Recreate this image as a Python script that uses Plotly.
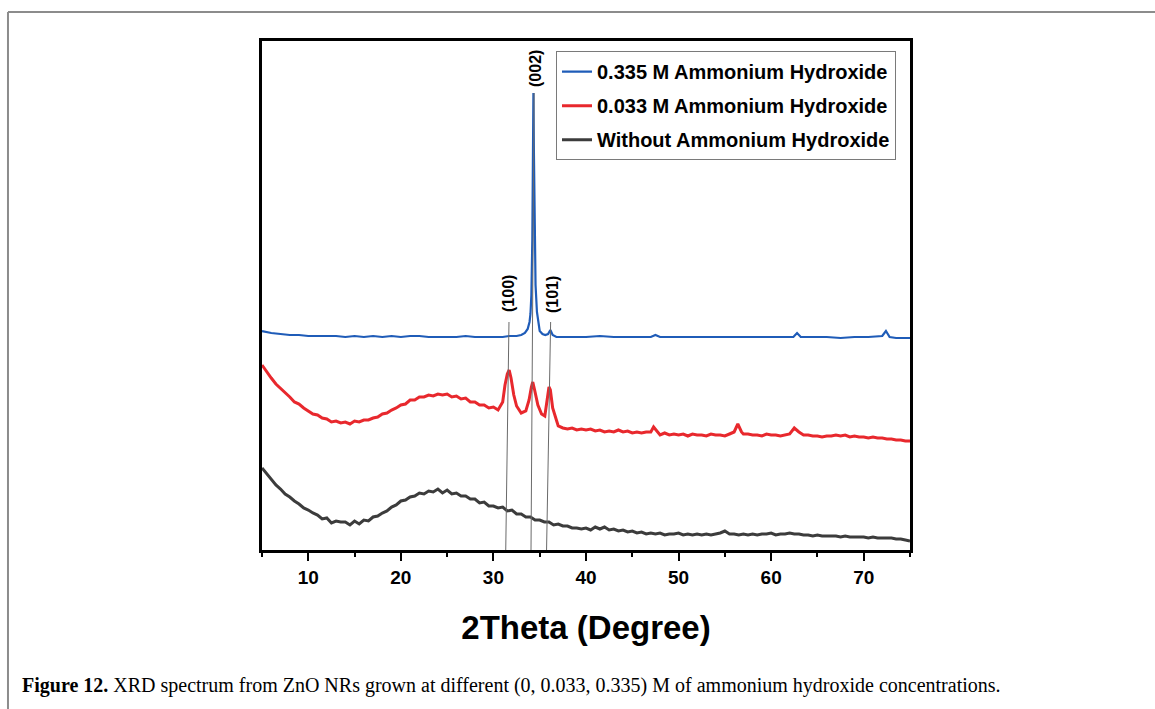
import plotly.graph_objects as go

# ---------------- data (intensity in arbitrary units) -------------
black_x = [5.0 + 0.5 * i for i in range(141)]
black_y = [82, 76, 71, 65, 61, 56, 53, 49, 46, 42, 40, 37, 35, 31, 32, 27, 29, 28, 28, 25,
           29, 26, 30, 29, 33, 34, 37, 39, 43, 45, 49, 50, 53, 54, 57, 56, 59, 58, 61, 57,
           60, 56, 57, 54, 54, 51, 51, 47, 48, 44, 44, 42, 43, 39, 40, 36, 36, 33, 33, 30,
           30, 28, 28, 25, 26, 24, 24, 22, 22, 21, 22, 20, 23, 21, 23, 20, 21, 19, 20, 18,
           19, 17, 18, 16, 17, 16, 17, 15, 16, 16, 17, 15, 16, 15, 16, 15, 16, 15, 16, 17,
           19, 16, 16, 15, 16, 15, 16, 15, 16, 16, 17, 15, 16, 16, 17, 16, 16, 15, 15, 14,
           15, 14, 14, 14, 14, 13, 14, 13, 13, 13, 13, 12, 13, 12, 12, 12, 12, 11, 11, 10, 9]

red_x = [5.0, 5.5, 6.0, 6.5, 7.0, 7.5, 8.0, 8.5, 9.0, 9.5, 10.0, 10.5, 11.0, 11.5, 12.0,
         12.5, 13.0, 13.5, 14.0, 14.5, 15.0, 15.5, 16.0, 16.5, 17.0, 17.5, 18.0, 18.5, 19.0,
         19.5, 20.0, 20.5, 21.0, 21.5, 22.0, 22.5, 23.0, 23.5, 24.0, 24.5, 25.0, 25.5, 26.0,
         26.5, 27.0, 27.5, 28.0, 28.5, 29.0, 29.5, 30.0, 30.5, 31.0, 31.25, 31.5, 31.7, 31.9,
         32.2, 32.5, 33.0, 33.5, 33.85, 34.1, 34.25, 34.45, 34.8, 35.2, 35.55, 35.8, 36.0,
         36.15, 36.4, 36.8, 37.0, 37.5, 38.0, 38.5, 39.0, 39.5, 40.0, 40.5, 41.0, 41.5, 42.0,
         42.5, 43.0, 43.5, 44.0, 44.5, 45.0, 45.5, 46.0, 46.5, 47.0, 47.3, 47.7, 48.0, 48.5,
         49.0, 49.5, 50.0, 50.5, 51.0, 51.5, 52.0, 52.5, 53.0, 53.5, 54.0, 54.5, 55.0, 55.5,
         56.0, 56.4, 56.8, 57.0, 57.5, 58.0, 58.5, 59.0, 59.5, 60.0, 60.5, 61.0, 61.5, 62.0,
         62.5, 63.0, 63.5, 64.0, 64.5, 65.0, 65.5, 66.0, 66.5, 67.0, 67.5, 68.0, 68.5, 69.0,
         69.5, 70.0, 70.5, 71.0, 71.5, 72.0, 72.5, 73.0, 73.5, 74.0, 74.5, 75.0]
red_y = [185, 178, 172, 166, 162, 157, 153, 148, 146, 142, 139, 136, 135, 132, 131,
         128, 129, 127, 128, 126, 129, 128, 130, 130, 132, 133, 136, 137, 140,
         142, 145, 146, 150, 150, 153, 153, 155, 154, 156, 155, 156, 153, 154,
         151, 152, 148, 148, 145, 145, 142, 143, 140, 148, 165, 176, 180, 172,
         155, 144, 137, 139, 150, 163, 168, 160, 145, 136, 134, 150, 163,
         160, 142, 130, 124, 122, 121, 122, 120, 121, 120, 121, 119, 120, 118,
         119, 118, 120, 118, 119, 117, 118, 117, 118, 118, 123, 118, 115, 117,
         115, 116, 115, 116, 114, 116, 115, 115, 114, 116, 115, 115, 114, 116,
         118, 126, 118, 116, 116, 115, 115, 114, 116, 115, 115, 114, 115, 116,
         122, 118, 115, 115, 114, 114, 113, 114, 114, 115, 114, 115, 113, 114,
         113, 113, 112, 113, 112, 112, 111, 111, 110, 110, 109, 109]

blue_x = [5.0, 5.5, 6.0, 7.0, 8.0, 9.0, 10.0, 11.0, 12.0, 13.0, 14.0, 15.0, 16.0, 17.0,
          18.0, 19.0, 20.0, 21.0, 22.0, 23.0, 24.0, 25.0, 26.0, 27.0, 28.0, 29.0, 30.0,
          31.0, 31.7, 32.5, 33.0, 33.4, 33.7, 33.9, 34.0, 34.1, 34.2, 34.27, 34.32, 34.37,
          34.45, 34.55, 34.7, 34.85, 35.0, 35.3, 35.6, 35.9, 36.15, 36.4, 36.8, 37.5, 38.5,
          40.0, 41.5, 43.0, 44.5, 46.0, 47.0, 47.5, 48.0, 49.5, 51.0, 52.5, 54.0, 55.5, 57.0,
          58.5, 60.0, 61.5, 62.4, 62.8, 63.2, 64.5, 66.0, 67.5, 69.0, 70.5, 72.0, 72.4, 72.8,
          73.5, 74.2, 75.0]
blue_y = [219, 218, 217, 216, 215, 215, 214, 214, 214, 214, 213, 214, 213, 214,
          213, 214, 213, 214, 214, 213, 213, 213, 213, 214, 213, 213, 213,
          213, 214, 214, 215, 217, 221, 228, 236, 255, 310, 400, 457, 400,
          320, 265, 238, 225, 219, 216, 215, 216, 220, 215, 213, 213, 213,
          213, 214, 213, 213, 213, 213, 215, 213, 213, 213, 213, 213, 213, 213,
          213, 213, 213, 213, 217, 213, 213, 213, 212, 213, 213, 214, 219, 213,
          212, 212, 212]

series_names = ["0.335 M Ammonium Hydroxide", "0.033 M Ammonium Hydroxide",
                "Without Ammonium Hydroxide"]
series_colors = ["#1f5cb8", "#e8282d", "#3c3c3c"]

# Miller-index reflections: label, x at top of marker line, x at axis, top height, label pos
peak_labels = ["(100)", "(002)", "(101)"]
peak_x_top = [31.68, 34.39, 36.18]
peak_x_bottom = [31.33, 34.06, 35.74]
peak_y_top = [228, 457, 228]
label_x = [31.57, 34.49, 36.33]
label_y = [257, 482, 255]

x_tick_vals = [10, 20, 30, 40, 50, 60, 70]

caption = ("<b>Figure 12.</b> XRD spectrum from ZnO NRs grown at different "
           "(0, 0.033, 0.335) M of ammonium hydroxide concentrations.")

# ---------------- figure ----------------
fig = go.Figure()
for xs, ys, name, col, w in [(blue_x, blue_y, series_names[0], series_colors[0], 2.2),
                             (red_x, red_y, series_names[1], series_colors[1], 3),
                             (black_x, black_y, series_names[2], series_colors[2], 3)]:
    fig.add_trace(go.Scatter(x=xs, y=ys, mode="lines", name=name, legendgroup=name,
                             line=dict(color=col, width=w)))

for xt, xb, yt in zip(peak_x_top, peak_x_bottom, peak_y_top):
    fig.add_shape(type="line", xref="x", yref="y", x0=xb, y0=0, x1=xt, y1=yt,
                  line=dict(color="#6a6a6a", width=1), layer="above")

for lab, lx, ly in zip(peak_labels, label_x, label_y):
    fig.add_annotation(x=lx, y=ly, xref="x", yref="y", text=f"<b>{lab}</b>", textangle=-90,
                       showarrow=False, font=dict(family="Liberation Sans, Arial", size=16,
                                                  color="black"))

fig.add_annotation(x=-0.3735, y=-0.267, xref="paper", yref="paper", text=caption,
                   showarrow=False, xanchor="left", yanchor="middle",
                   font=dict(family="Liberation Serif, Times New Roman", size=20, color="black"))

# outer figure frame (top and left edges)
fig.add_shape(type="line", xref="paper", yref="paper", x0=-0.392, y0=1.057, x1=1.5, y1=1.057,
              line=dict(color="#8c8c8c", width=2))
fig.add_shape(type="line", xref="paper", yref="paper", x0=-0.392, y0=1.057, x1=-0.392, y1=-0.4,
              line=dict(color="#8c8c8c", width=2))

fig.update_layout(
    width=1155, height=709,
    margin=dict(l=262, r=245, t=41, b=159),
    paper_bgcolor="white", plot_bgcolor="white",
    showlegend=True,
    legend=dict(x=0.4537, y=0.98, xanchor="left", yanchor="top",
                bordercolor="#7a7a7a", borderwidth=1, bgcolor="white",
                font=dict(family="Liberation Sans, Arial", size=20, color="black", weight="bold"),
                tracegroupgap=5, itemwidth=30),
    font=dict(family="Liberation Sans, Arial", color="black"),
)
fig.update_xaxes(range=[5, 75], showline=True, linecolor="black", linewidth=2.5, mirror=True,
                 ticks="outside", ticklen=8, tickwidth=2, tickcolor="black",
                 tickvals=x_tick_vals, showgrid=False, zeroline=False,
                 tickfont=dict(size=19, weight="bold", color="black"),
                 minor=dict(dtick=5, tick0=5, ticks="outside", ticklen=4, tickwidth=2,
                            tickcolor="black", showgrid=False),
                 title=dict(text="<b>2Theta (Degree)</b>", font=dict(size=33, color="black"),
                            standoff=30))
fig.update_yaxes(range=[0, 509], showline=True, linecolor="black", linewidth=2.5, mirror=True,
                 ticks="", showticklabels=False, showgrid=False, zeroline=False)

fig.write_html("out.html")
